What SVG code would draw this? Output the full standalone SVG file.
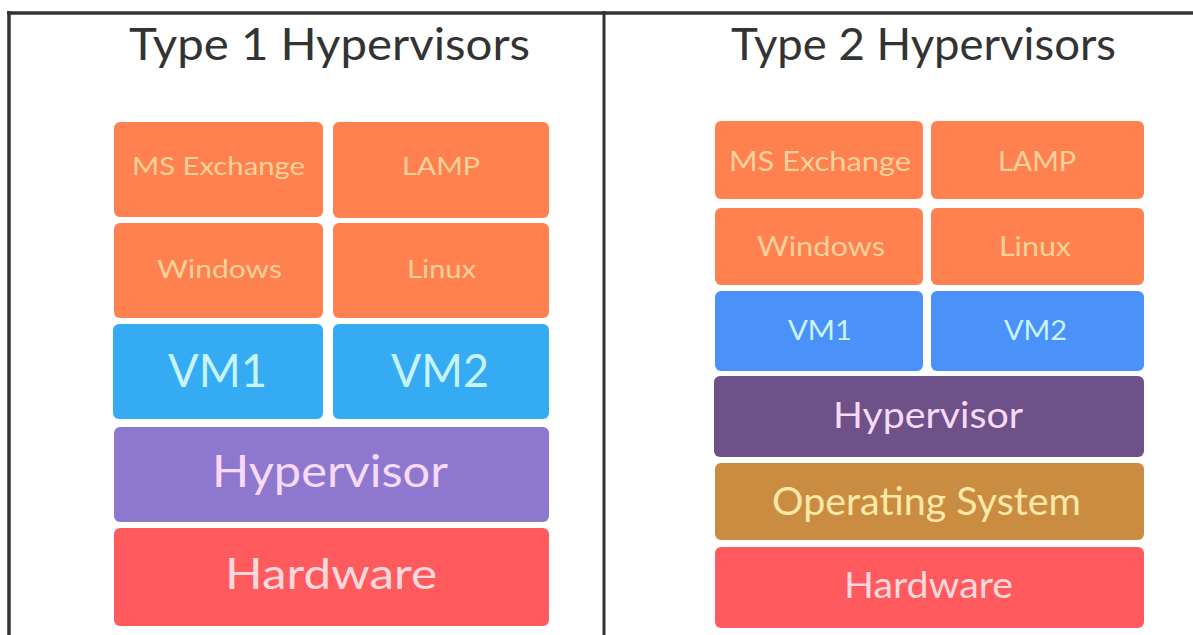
<svg xmlns="http://www.w3.org/2000/svg" width="1193" height="635" viewBox="0 0 1193 635">
<style>
  text { font-family: Lato, "Open Sans", "Liberation Sans", sans-serif; text-anchor: middle; }
  .title { font-size: 44px; fill: #333333; }
  .frame { stroke: #333333; fill: none; }
  .app { fill: #FF8150; }
  .apptxt { fill: #FFD29C; }
  .vm1 { fill: #35ABF3; }
  .vm2 { fill: #4A92FA; }
  .vmtxt { fill: #C8F4FF; }
  .hyp1 { fill: #8E78CF; }
  .hyp2 { fill: #6E5189; }
  .hyptxt { fill: #F6DAF8; }
  .os { fill: #C98C40; }
  .ostxt { fill: #FFE8A8; }
  .hw { fill: #FF5A5E; }
  .hwtxt { fill: #FFD8DE; }
</style>
<rect width="1193" height="635" fill="#ffffff"/>
<g id="frame">
  <line class="frame" x1="7" y1="13" x2="1193" y2="13" stroke-width="3.5"/>
  <line class="frame" x1="9" y1="11" x2="9" y2="635" stroke-width="3.5"/>
  <line class="frame" x1="604" y1="11" x2="604" y2="635" stroke-width="3"/>
</g>
<g id="titles">
  <text class="title" x="329.5" y="60" textLength="401" lengthAdjust="spacingAndGlyphs">Type 1 Hypervisors</text>
  <text class="title" x="923.5" y="60" textLength="385" lengthAdjust="spacingAndGlyphs">Type 2 Hypervisors</text>
</g>
<g id="type1">
  <g id="t1-msexchange"><rect class="app" x="114" y="122" width="209" height="95" rx="6"/><text class="apptxt" x="218.5" y="175" font-size="25" textLength="173" lengthAdjust="spacingAndGlyphs">MS Exchange</text></g>
  <g id="t1-lamp"><rect class="app" x="333" y="122" width="216" height="96" rx="6"/><text class="apptxt" x="441" y="175" font-size="25" textLength="78" lengthAdjust="spacingAndGlyphs">LAMP</text></g>
  <g id="t1-windows"><rect class="app" x="114" y="223" width="209" height="95" rx="6"/><text class="apptxt" x="219.5" y="278" font-size="25" textLength="125" lengthAdjust="spacingAndGlyphs">Windows</text></g>
  <g id="t1-linux"><rect class="app" x="333" y="223" width="216" height="95" rx="6"/><text class="apptxt" x="441.5" y="278" font-size="25" textLength="69" lengthAdjust="spacingAndGlyphs">Linux</text></g>
  <g id="t1-vm1"><rect class="vm1" x="113" y="324" width="210" height="95" rx="6"/><text class="vmtxt" x="217.5" y="387" font-size="47" textLength="99" lengthAdjust="spacingAndGlyphs">VM1</text></g>
  <g id="t1-vm2"><rect class="vm1" x="333" y="324" width="216" height="95" rx="6"/><text class="vmtxt" x="440" y="387" font-size="47" textLength="98" lengthAdjust="spacingAndGlyphs">VM2</text></g>
  <g id="t1-hypervisor"><rect class="hyp1" x="114" y="427" width="435" height="95" rx="6"/><text class="hyptxt" x="330" y="487" font-size="44" textLength="236" lengthAdjust="spacingAndGlyphs">Hypervisor</text></g>
  <g id="t1-hardware"><rect class="hw" x="114" y="528" width="435" height="98" rx="6"/><text class="hwtxt" x="331" y="589" font-size="43" textLength="212" lengthAdjust="spacingAndGlyphs">Hardware</text></g>
</g>
<g id="type2">
  <g id="t2-msexchange"><rect class="app" x="715" y="121" width="208" height="78" rx="6"/><text class="apptxt" x="820" y="171" font-size="26" textLength="182" lengthAdjust="spacingAndGlyphs">MS Exchange</text></g>
  <g id="t2-lamp"><rect class="app" x="931" y="121" width="213" height="78" rx="6"/><text class="apptxt" x="1037" y="171" font-size="26" textLength="78" lengthAdjust="spacingAndGlyphs">LAMP</text></g>
  <g id="t2-windows"><rect class="app" x="715" y="208" width="208" height="77" rx="6"/><text class="apptxt" x="821" y="256" font-size="26" textLength="128" lengthAdjust="spacingAndGlyphs">Windows</text></g>
  <g id="t2-linux"><rect class="app" x="931" y="208" width="213" height="77" rx="6"/><text class="apptxt" x="1035" y="256" font-size="26" textLength="72" lengthAdjust="spacingAndGlyphs">Linux</text></g>
  <g id="t2-vm1"><rect class="vm2" x="715" y="291" width="208" height="80" rx="6"/><text class="vmtxt" x="820" y="340" font-size="26" textLength="64" lengthAdjust="spacingAndGlyphs">VM1</text></g>
  <g id="t2-vm2"><rect class="vm2" x="931" y="291" width="213" height="80" rx="6"/><text class="vmtxt" x="1035.5" y="340" font-size="26" textLength="63" lengthAdjust="spacingAndGlyphs">VM2</text></g>
  <g id="t2-hypervisor"><rect class="hyp2" x="714" y="376" width="430" height="81" rx="6"/><text class="hyptxt" x="928" y="428" font-size="36" textLength="190" lengthAdjust="spacingAndGlyphs">Hypervisor</text></g>
  <g id="t2-os"><rect class="os" x="715" y="463" width="429" height="77" rx="6"/><text class="ostxt" x="926.5" y="515" font-size="38" textLength="309" lengthAdjust="spacingAndGlyphs">Operating System</text></g>
  <g id="t2-hardware"><rect class="hw" x="715" y="547" width="429" height="81" rx="6"/><text class="hwtxt" x="928.5" y="598" font-size="36" textLength="169" lengthAdjust="spacingAndGlyphs">Hardware</text></g>
</g>
</svg>
